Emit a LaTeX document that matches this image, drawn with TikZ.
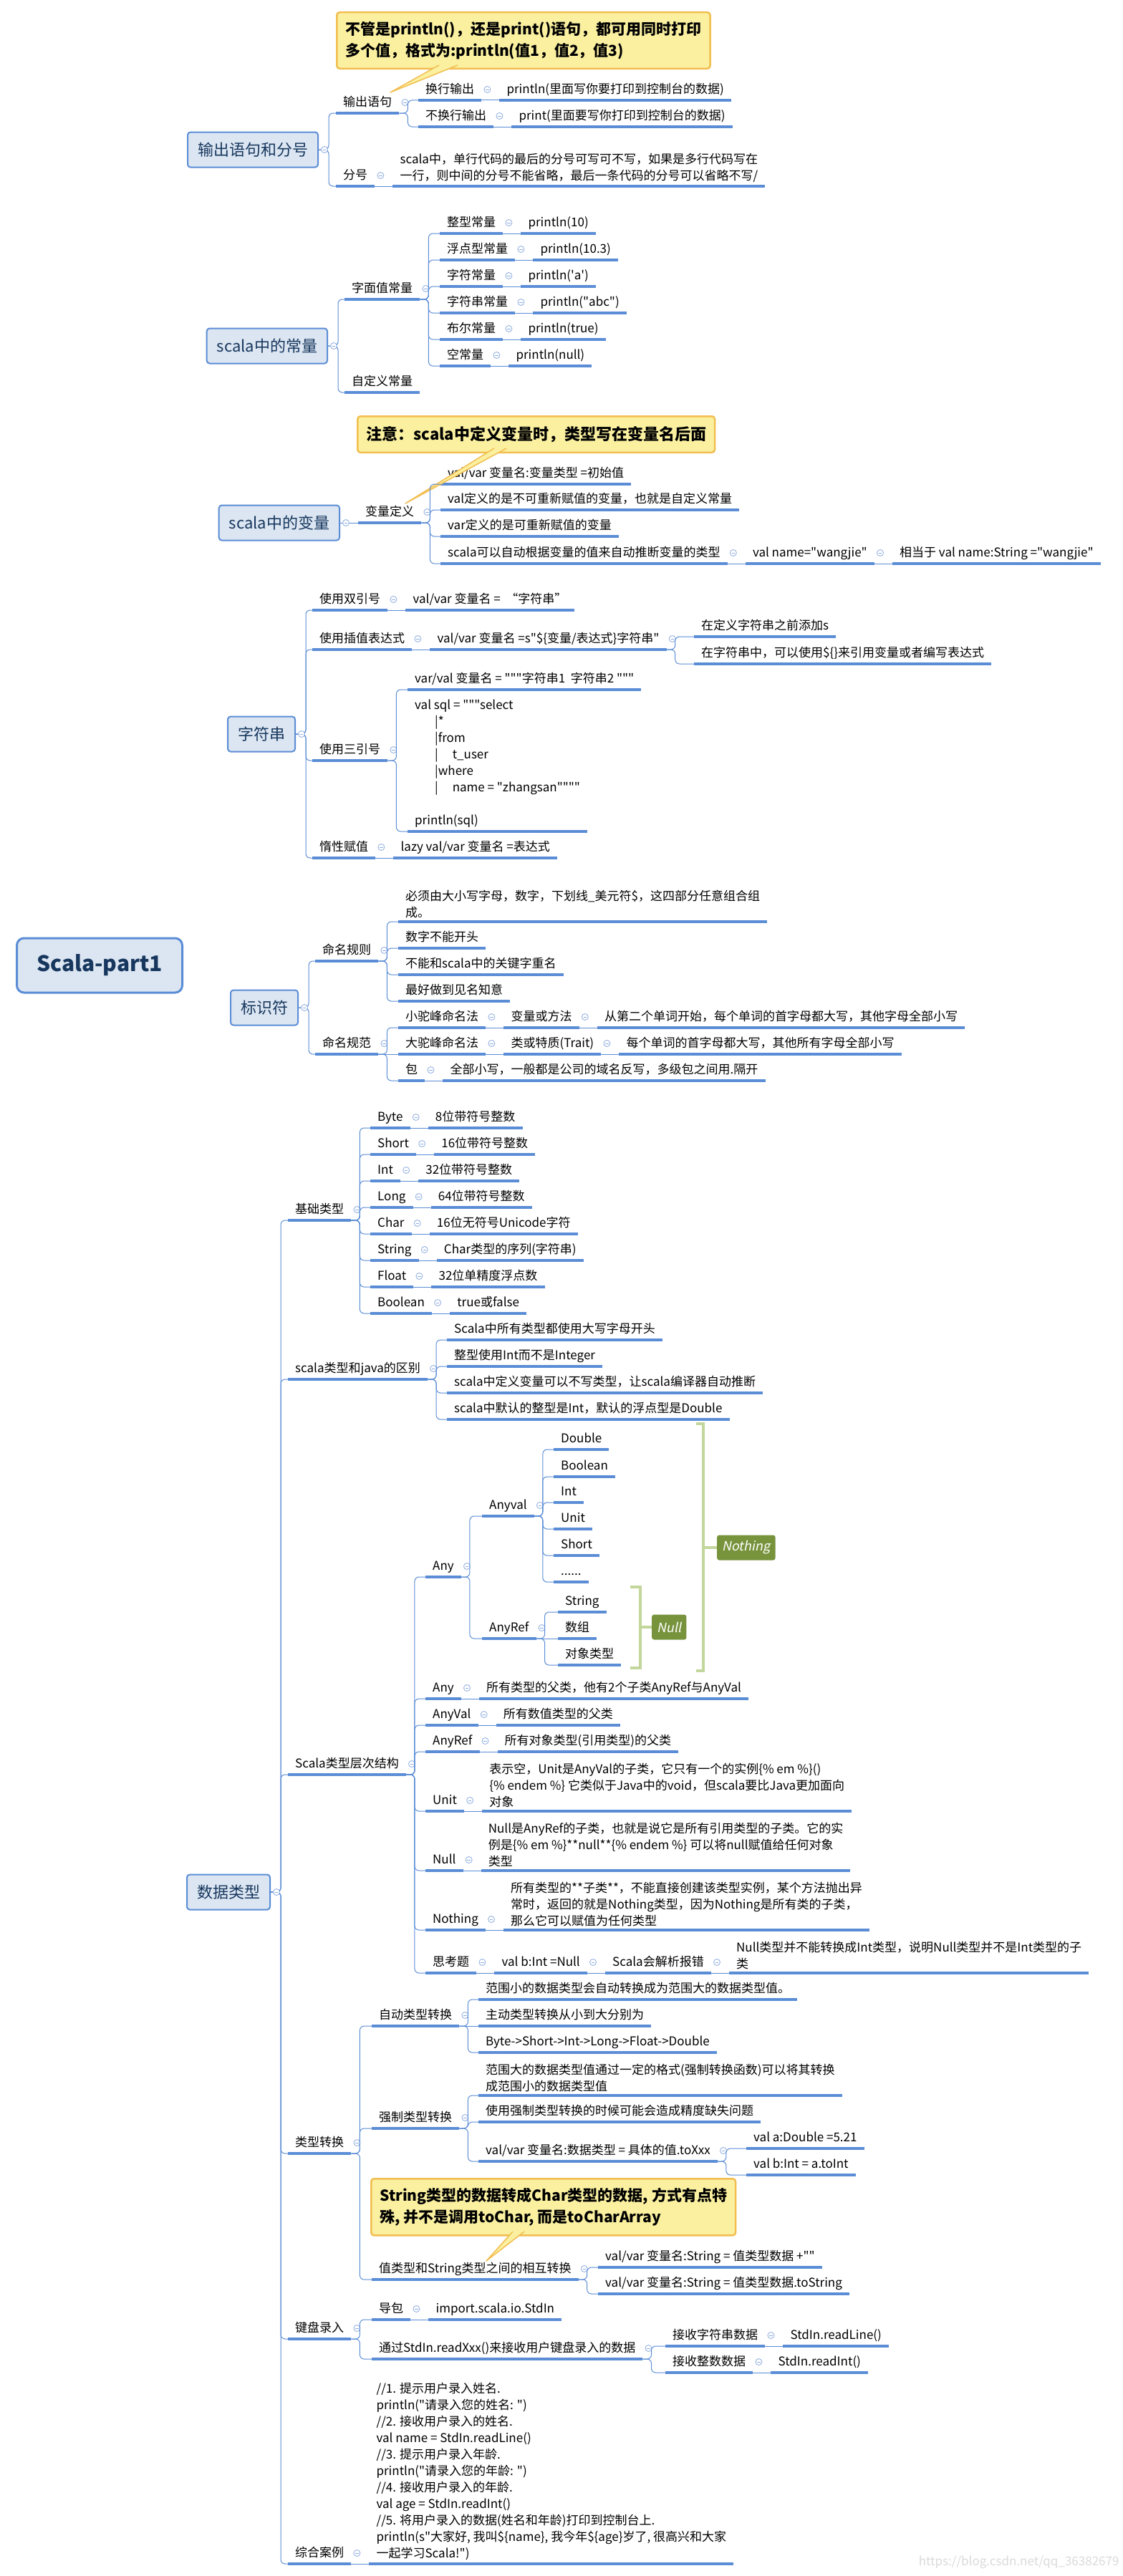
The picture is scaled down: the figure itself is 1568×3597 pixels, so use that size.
\documentclass[tikz,border=0pt]{standalone}
\usepackage{fontspec}
\setmainfont{Noto Sans CJK SC}
\newfontfamily\cnfont{Noto Sans CJK SC}
\newfontfamily\tagfont{Noto Sans CJK SC}[FakeSlant=0.2]
\usetikzlibrary{calc}
\definecolor{lineblue}{RGB}{91,141,214}
\definecolor{foldblue}{RGB}{140,172,224}
\definecolor{topicfill}{RGB}{220,230,242}
\definecolor{topictext}{RGB}{23,55,94}
\definecolor{notefill}{RGB}{250,240,160}
\definecolor{noteline}{RGB}{242,190,80}
\definecolor{bracegreen}{RGB}{195,214,155}
\definecolor{tagfill}{RGB}{119,147,60}
\definecolor{markgray}{RGB}{218,218,218}
\pgfdeclarelayer{background}
\pgfsetlayers{background,main}
\tikzset{
    rootnode/.style = {
        rectangle,
        rounded corners=10pt,
        draw=lineblue,
        line width=3pt,
        fill=topicfill,
        text=topictext,
        font=\cnfont\bfseries\fontsize{30}{36}\selectfont,
        minimum width=231pt,
        minimum height=76pt
    },
    topicnode/.style = {
        anchor=east,
        rectangle,
        rounded corners=4pt,
        draw=lineblue,
        line width=2pt,
        fill=topicfill,
        text=topictext,
        font=\cnfont\fontsize{22}{26}\selectfont,
        inner xsep=14pt,
        minimum height=49pt
    },
    ulinestyle/.style = {
        draw=lineblue,
        line width=3.5pt
    },
    subnode/.style = {
        anchor=south west,
        font=\cnfont\fontsize{17}{23}\selectfont,
        inner xsep=10pt,
        inner ysep=5pt,
        text height=13pt,
        text depth=4pt,
        append after command={
            (\tikzlastnode.south west) edge[ulinestyle] (\tikzlastnode.south east)
        }
    },
    multinode/.style = {
        subnode,
        align=left,
        text height=,
        text depth=
    },
    foldnode/.style = {
        circle,
        draw=foldblue,
        fill=white,
        line width=0.8pt,
        inner sep=0pt,
        minimum size=9pt,
        path picture={
            \draw[foldblue, line width=0.8pt]
                ([xshift=-2.2pt]path picture bounding box.center) --
                ([xshift=2.2pt]path picture bounding box.center);
        }
    },
    parentnode/.style = {
        subnode,
        append after command={
            node[foldnode] (\tikzlastnode-fold) at ([xshift=8pt,yshift=15pt]\tikzlastnode.south east) {}
        }
    },
    branch/.style = {
        draw=lineblue,
        line width=1pt,
        rounded corners=6pt
    },
    notenode/.style = {
        anchor=north west,
        rectangle,
        rounded corners=4pt,
        draw=noteline,
        line width=2.5pt,
        fill=notefill,
        align=left,
        inner xsep=12pt,
        inner ysep=13pt,
        font=\cnfont\bfseries\fontsize{21}{30}\selectfont
    },
    notetail/.style = {
        fill=notefill,
        draw=noteline,
        line width=1.5pt,
        line join=round
    },
    tagnode/.style = {
        anchor=west,
        rectangle,
        rounded corners=3pt,
        fill=tagfill,
        text=white,
        font=\tagfont\fontsize{18}{20}\selectfont,
        minimum height=35pt,
        inner xsep=7pt
    },
    tagbracket/.style = {
        draw=bracegreen,
        line width=4.5pt
    }
}

\begin{document}
\begin{tikzpicture}[x=1pt, y=-1pt]
    \fill[white] (0,0) rectangle (1568,3597);
    \useasboundingbox (0,0) rectangle (1568,3597);

    \node[rootnode] (root) at (139,1348) {Scala-part1};

    \node[topicnode] (out) at (445,209) {输出语句和分号};
    \node[parentnode] (outstmt) at (469,158) {输出语句};
    \node[parentnode] (outln) at (584,140) {换行输出};
    \node[subnode] (outlnv) at ([xshift=25pt]outln.south east) {println(里面写你要打印到控制台的数据)};
    \node[parentnode] (outnoln) at (584,177) {不换行输出};
    \node[subnode] (outnolnv) at ([xshift=25pt]outnoln.south east) {print(里面要写你打印到控制台的数据)};
    \node[parentnode] (semi) at (469,260) {分号};
    \node[multinode] (semiv) at ([xshift=25pt]semi.south east) {scala中，单行代码的最后的分号可写可不写，如果是多行代码写在\\一行，则中间的分号不能省略，最后一条代码的分号可以省略不写/};

    \node[topicnode] (const) at (458,483) {scala中的常量};
    \node[parentnode] (constlit) at (481,418) {字面值常量};
    \node[subnode] (constdef) at (481,548) {自定义常量};
    \node[parentnode] (lit1) at (614,326) {整型常量};
    \node[subnode] (lit1v) at ([xshift=25pt]lit1.south east) {println(10)};
    \node[parentnode] (lit2) at (614,363) {浮点型常量};
    \node[subnode] (lit2v) at ([xshift=25pt]lit2.south east) {println(10.3)};
    \node[parentnode] (lit3) at (614,400) {字符常量};
    \node[subnode] (lit3v) at ([xshift=25pt]lit3.south east) {println('a')};
    \node[parentnode] (lit4) at (614,437) {字符串常量};
    \node[subnode] (lit4v) at ([xshift=25pt]lit4.south east) {println("abc")};
    \node[parentnode] (lit5) at (614,474) {布尔常量};
    \node[subnode] (lit5v) at ([xshift=25pt]lit5.south east) {println(true)};
    \node[parentnode] (lit6) at (614,511) {空常量};
    \node[subnode] (lit6v) at ([xshift=25pt]lit6.south east) {println(null)};

    \node[topicnode] (vars) at (475,730) {scala中的变量};
    \node[parentnode] (vardef) at (500,730) {变量定义};
    \node[subnode] (vardef1) at (615,676) {val/var 变量名:变量类型 =初始值};
    \node[subnode] (vardef2) at (615,712) {val定义的是不可重新赋值的变量，也就是自定义常量};
    \node[subnode] (vardef3) at (615,749) {var定义的是可重新赋值的变量};
    \node[parentnode] (vardef4) at (615,787) {scala可以自动根据变量的值来自动推断变量的类型};
    \node[parentnode] (vardef4a) at ([xshift=25pt]vardef4.south east) {val name="wangjie"};
    \node[subnode] (vardef4b) at ([xshift=25pt]vardef4a.south east) {相当于 val name:String ="wangjie"};

    \node[topicnode] (str) at (413,1025) {字符串};
    \node[parentnode] (strdq) at (436,852) {使用双引号};
    \node[subnode] (strdqv) at ([xshift=25pt]strdq.south east) {val/var 变量名 =\ \ “字符串”};
    \node[parentnode] (strip) at (436,907) {使用插值表达式};
    \node[parentnode] (stripv) at ([xshift=25pt]strip.south east) {val/var 变量名 =s"\$\{变量/表达式\}字符串"};
    \node[subnode] (stripv1) at (969,889) {在定义字符串之前添加s};
    \node[subnode] (stripv2) at (969,927) {在字符串中，可以使用\$\{\}来引用变量或者编写表达式};
    \node[parentnode] (strtq) at (436,1062) {使用三引号};
    \node[subnode] (strtq1) at (569,963) {var/val 变量名 = """字符串1\ \ 字符串2 """};
    \node[multinode] (strtq2) at (569,1161) {val sql = """select\\
        \hspace*{28pt}|*\\
        \hspace*{28pt}|from\\
        \hspace*{28pt}|\hspace*{20pt}t\_user\\
        \hspace*{28pt}|where\\
        \hspace*{28pt}|\hspace*{20pt}name = "zhangsan""""\\[23pt]
        println(sql)};
    \node[parentnode] (strlazy) at (436,1198) {惰性赋值};
    \node[subnode] (strlazyv) at ([xshift=25pt]strlazy.south east) {lazy val/var 变量名 =表达式};

    \node[topicnode] (ident) at (417,1407) {标识符};
    \node[parentnode] (idrule) at (440,1342) {命名规则};
    \node[multinode] (idrule1) at (556,1287) {必须由大小写字母，数字，下划线\_美元符\$，这四部分任意组合组\\成。};
    \node[subnode] (idrule2) at (556,1324) {数字不能开头};
    \node[subnode] (idrule3) at (556,1361) {不能和scala中的关键字重名};
    \node[subnode] (idrule4) at (556,1398) {最好做到见名知意};
    \node[parentnode] (idname) at (440,1472) {命名规范};
    \node[parentnode] (camel) at (556,1435) {小驼峰命名法};
    \node[parentnode] (camelv) at ([xshift=25pt]camel.south east) {变量或方法};
    \node[subnode] (camelvv) at ([xshift=25pt]camelv.south east) {从第二个单词开始，每个单词的首字母都大写，其他字母全部小写};
    \node[parentnode] (pascal) at (556,1472) {大驼峰命名法};
    \node[parentnode] (pascalv) at ([xshift=25pt]pascal.south east) {类或特质(Trait)};
    \node[subnode] (pascalvv) at ([xshift=25pt]pascalv.south east) {每个单词的首字母都大写，其他所有字母全部小写};
    \node[parentnode] (pkg) at (556,1509) {包};
    \node[subnode] (pkgv) at ([xshift=25pt]pkg.south east) {全部小写，一般都是公司的域名反写，多级包之间用.隔开};

    \node[topicnode] (dtype) at (378,2642) {数据类型};
    \node[parentnode] (basic) at (402,1704) {基础类型};
    \node[parentnode] (tbyte) at (517,1575) {Byte};
    \node[subnode] (tbytev) at ([xshift=25pt]tbyte.south east) {8位带符号整数};
    \node[parentnode] (tshort) at (517,1612) {Short};
    \node[subnode] (tshortv) at ([xshift=25pt]tshort.south east) {16位带符号整数};
    \node[parentnode] (tint) at (517,1649) {Int};
    \node[subnode] (tintv) at ([xshift=25pt]tint.south east) {32位带符号整数};
    \node[parentnode] (tlong) at (517,1686) {Long};
    \node[subnode] (tlongv) at ([xshift=25pt]tlong.south east) {64位带符号整数};
    \node[parentnode] (tchar) at (517,1723) {Char};
    \node[subnode] (tcharv) at ([xshift=25pt]tchar.south east) {16位无符号Unicode字符};
    \node[parentnode] (tstring) at (517,1760) {String};
    \node[subnode] (tstringv) at ([xshift=25pt]tstring.south east) {Char类型的序列(字符串)};
    \node[parentnode] (tfloat) at (517,1797) {Float};
    \node[subnode] (tfloatv) at ([xshift=25pt]tfloat.south east) {32位单精度浮点数};
    \node[parentnode] (tbool) at (517,1834) {Boolean};
    \node[subnode] (tboolv) at ([xshift=25pt]tbool.south east) {true或false};

    \node[parentnode] (diff) at (402,1926) {scala类型和java的区别};
    \node[subnode] (diff1) at (624,1871) {Scala中所有类型都使用大写字母开头};
    \node[subnode] (diff2) at (624,1908) {整型使用Int而不是Integer};
    \node[subnode] (diff3) at (624,1945) {scala中定义变量可以不写类型，让scala编译器自动推断};
    \node[subnode] (diff4) at (624,1982) {scala中默认的整型是Int，默认的浮点型是Double};

    \node[parentnode] (hier) at (402,2478) {Scala类型层次结构};
    \node[parentnode] (anytree) at (594,2202) {Any};
    \node[parentnode] (anyval) at (673,2117) {Anyval};
    \node[subnode] (av1) at (773,2024) {Double};
    \node[subnode] (av2) at (773,2062) {Boolean};
    \node[subnode] (av3) at (773,2098) {Int};
    \node[subnode] (av4) at (773,2135) {Unit};
    \node[subnode] (av5) at (773,2172) {Short};
    \node[subnode] (av6) at (773,2209) {......};
    \node[parentnode] (anyref) at (673,2288) {AnyRef};
    \node[subnode] (ar1) at (779,2251) {String};
    \node[subnode] (ar2) at (779,2288) {数组};
    \node[subnode] (ar3) at (779,2325) {对象类型};
    \node[tagnode] (nulltag) at (910,2272) {Null};
    \node[tagnode] (nothingtag) at (1001,2161) {Nothing};
    \node[parentnode] (hany) at (594,2372) {Any};
    \node[subnode] (hanyv) at ([xshift=25pt]hany.south east) {所有类型的父类，他有2个子类AnyRef与AnyVal};
    \node[parentnode] (hanyval) at (594,2409) {AnyVal};
    \node[subnode] (hanyvalv) at ([xshift=25pt]hanyval.south east) {所有数值类型的父类};
    \node[parentnode] (hanyref) at (594,2446) {AnyRef};
    \node[subnode] (hanyrefv) at ([xshift=25pt]hanyref.south east) {所有对象类型(引用类型)的父类};
    \node[parentnode] (hunit) at (594,2529) {Unit};
    \node[multinode] (hunitv) at ([xshift=25pt]hunit.south east) {表示空，Unit是AnyVal的子类，它只有一个的实例\{\% em \%\}()\\\{\% endem \%\} 它类似于Java中的void，但scala要比Java更加面向\\对象};
    \node[parentnode] (hnull) at (594,2612) {Null};
    \node[multinode] (hnullv) at ([xshift=25pt]hnull.south east) {Null是AnyRef的子类，也就是说它是所有引用类型的子类。它的实\\例是\{\% em \%\}**null**\{\% endem \%\} 可以将null赋值给任何对象\\类型};
    \node[parentnode] (hnothing) at (594,2695) {Nothing};
    \node[multinode] (hnothingv) at ([xshift=25pt]hnothing.south east) {所有类型的**子类**，不能直接创建该类型实例，某个方法抛出异\\常时，返回的就是Nothing类型，因为Nothing是所有类的子类，\\那么它可以赋值为任何类型};
    \node[parentnode] (quiz) at (594,2755) {思考题};
    \node[parentnode] (quiz1) at ([xshift=25pt]quiz.south east) {val b:Int =Null};
    \node[parentnode] (quiz2) at ([xshift=25pt]quiz1.south east) {Scala会解析报错};
    \node[multinode] (quiz3) at ([xshift=25pt]quiz2.south east) {Null类型并不能转换成Int类型，说明Null类型并不是Int类型的子\\类};

    \node[parentnode] (conv) at (402,3007) {类型转换};
    \node[parentnode] (auto) at (519,2829) {自动类型转换};
    \node[subnode] (auto1) at (668,2792) {范围小的数据类型会自动转换成为范围大的数据类型值。};
    \node[subnode] (auto2) at (668,2829) {主动类型转换从小到大分别为};
    \node[subnode] (auto3) at (668,2866) {Byte->Short->Int->Long->Float->Double};
    \node[parentnode] (force) at (519,2972) {强制类型转换};
    \node[multinode] (force1) at (668,2926) {范围大的数据类型值通过一定的格式(强制转换函数)可以将其转换\\成范围小的数据类型值};
    \node[subnode] (force2) at (668,2963) {使用强制类型转换的时候可能会造成精度缺失问题};
    \node[parentnode] (force3) at (668,3018) {val/var 变量名:数据类型 = 具体的值.toXxx};
    \node[subnode] (force3a) at (1042,3000) {val a:Double =5.21};
    \node[subnode] (force3b) at (1042,3037) {val b:Int = a.toInt};
    \node[parentnode] (valstr) at (519,3183) {值类型和String类型之间的相互转换};
    \node[subnode] (valstr1) at (835,3166) {val/var 变量名:String = 值类型数据 +""};
    \node[subnode] (valstr2) at (835,3203) {val/var 变量名:String = 值类型数据.toString};

    \node[parentnode] (input) at (402,3266) {键盘录入};
    \node[parentnode] (inputimp) at (519,3239) {导包};
    \node[subnode] (inputimpv) at ([xshift=25pt]inputimp.south east) {import.scala.io.StdIn};
    \node[parentnode] (inputread) at (519,3294) {通过StdIn.readXxx()来接收用户键盘录入的数据};
    \node[parentnode] (readstr) at (929,3276) {接收字符串数据};
    \node[subnode] (readstrv) at ([xshift=25pt]readstr.south east) {StdIn.readLine()};
    \node[parentnode] (readint) at (929,3313) {接收整数数据};
    \node[subnode] (readintv) at ([xshift=25pt]readint.south east) {StdIn.readInt()};

    \node[parentnode] (demo) at (402,3580) {综合案例};
    \node[multinode] (demov) at ([xshift=25pt]demo.south east) {//1. 提示用户录入姓名.\\
        println("请录入您的姓名: ")\\
        //2. 接收用户录入的姓名.\\
        val name = StdIn.readLine()\\
        //3. 提示用户录入年龄.\\
        println("请录入您的年龄: ")\\
        //4. 接收用户录入的年龄.\\
        val age = StdIn.readInt()\\
        //5. 将用户录入的数据(姓名和年龄)打印到控制台上.\\
        println(s"大家好, 我叫\$\{name\}, 我今年\$\{age\}岁了, 很高兴和大家\\
        一起学习Scala!")};

    \node[notenode] (note1) at (469,16) {不管是println()，还是print()语句，都可用同时打印\\多个值，格式为:println(值1，值2，值3)};
    \filldraw[notetail] (613,91) -- (545,129) -- (639,91);
    \node[notenode, inner ysep=14pt, font=\cnfont\bfseries\fontsize{22}{30}\selectfont] (note2) at (498,580) {注意：scala中定义变量时，类型写在变量名后面};
    \filldraw[notetail] (690,626) -- (566,703) -- (707,626);
    \node[notenode] (note3) at (517,3041) {String类型的数据转成Char类型的数据, 方式有点特\\殊, 并不是调用toChar, 而是toCharArray};
    \filldraw[notetail] (716,3116) -- (679,3157) -- (732,3116);

    \node[font=\cnfont\fontsize{17}{20}\selectfont, text=markgray, anchor=east] (mark) at (1566,3578) {https://blog.csdn.net/qq\_36382679};

    \begin{pgfonlayer}{background}
        \draw[branch] (root.center) .. controls ($(root.center)!0.667!(192,209)$) and ($(out.west)!0.667!(192,209)$) .. (out.west);
        \draw[branch] (root.center) .. controls ($(root.center)!0.667!(192,483)$) and ($(const.west)!0.667!(192,483)$) .. (const.west);
        \draw[branch] (root.center) .. controls ($(root.center)!0.667!(192,730)$) and ($(vars.west)!0.667!(192,730)$) .. (vars.west);
        \draw[branch] (root.center) .. controls ($(root.center)!0.667!(200,1025)$) and ($(str.west)!0.667!(200,1025)$) .. (str.west);
        \draw[branch] (root.center) .. controls ($(root.center)!0.667!(300,1407)$) and ($(ident.west)!0.667!(300,1407)$) .. (ident.west);
        \draw[branch] (root.center) .. controls ($(root.center)!0.667!(192,2642)$) and ($(dtype.west)!0.667!(192,2642)$) .. (dtype.west);
    \end{pgfonlayer}

    \draw[branch] (out.east) -- ++(14,0) |- (outstmt.south west);
    \draw[branch] (out.east) -- ++(14,0) |- (semi.south west);
    \draw[branch] (outstmt.south east) -- ++(12,0) |- (outln.south west);
    \draw[branch] (outstmt.south east) -- ++(12,0) |- (outnoln.south west);
    \draw[branch] (outln.south east) -- (outlnv.south west);
    \draw[branch] (outnoln.south east) -- (outnolnv.south west);
    \draw[branch] (semi.south east) -- (semiv.south west);

    \draw[branch] (const.east) -- ++(14,0) |- (constlit.south west);
    \draw[branch] (const.east) -- ++(14,0) |- (constdef.south west);
    \draw[branch] (constlit.south east) -- ++(12,0) |- (lit1.south west);
    \draw[branch] (constlit.south east) -- ++(12,0) |- (lit2.south west);
    \draw[branch] (constlit.south east) -- ++(12,0) |- (lit3.south west);
    \draw[branch] (constlit.south east) -- ++(12,0) |- (lit4.south west);
    \draw[branch] (constlit.south east) -- ++(12,0) |- (lit5.south west);
    \draw[branch] (constlit.south east) -- ++(12,0) |- (lit6.south west);
    \draw[branch] (lit1.south east) -- (lit1v.south west);
    \draw[branch] (lit2.south east) -- (lit2v.south west);
    \draw[branch] (lit3.south east) -- (lit3v.south west);
    \draw[branch] (lit4.south east) -- (lit4v.south west);
    \draw[branch] (lit5.south east) -- (lit5v.south west);
    \draw[branch] (lit6.south east) -- (lit6v.south west);

    \draw[branch] (vars.east) -- (vardef.south west);
    \draw[branch] (vardef.south east) -- ++(12,0) |- (vardef1.south west);
    \draw[branch] (vardef.south east) -- ++(12,0) |- (vardef2.south west);
    \draw[branch] (vardef.south east) -- ++(12,0) |- (vardef3.south west);
    \draw[branch] (vardef.south east) -- ++(12,0) |- (vardef4.south west);
    \draw[branch] (vardef4.south east) -- (vardef4a.south west);
    \draw[branch] (vardef4a.south east) -- (vardef4b.south west);

    \draw[branch] (str.east) -- ++(14,0) |- (strdq.south west);
    \draw[branch] (str.east) -- ++(14,0) |- (strip.south west);
    \draw[branch] (str.east) -- ++(14,0) |- (strtq.south west);
    \draw[branch] (str.east) -- ++(14,0) |- (strlazy.south west);
    \draw[branch] (strdq.south east) -- (strdqv.south west);
    \draw[branch] (strip.south east) -- (stripv.south west);
    \draw[branch] (stripv.south east) -- ++(12,0) |- (stripv1.south west);
    \draw[branch] (stripv.south east) -- ++(12,0) |- (stripv2.south west);
    \draw[branch] (strtq.south east) -- ++(12,0) |- (strtq1.south west);
    \draw[branch] (strtq.south east) -- ++(12,0) |- (strtq2.south west);
    \draw[branch] (strlazy.south east) -- (strlazyv.south west);

    \draw[branch] (ident.east) -- ++(14,0) |- (idrule.south west);
    \draw[branch] (ident.east) -- ++(14,0) |- (idname.south west);
    \draw[branch] (idrule.south east) -- ++(12,0) |- (idrule1.south west);
    \draw[branch] (idrule.south east) -- ++(12,0) |- (idrule2.south west);
    \draw[branch] (idrule.south east) -- ++(12,0) |- (idrule3.south west);
    \draw[branch] (idrule.south east) -- ++(12,0) |- (idrule4.south west);
    \draw[branch] (idname.south east) -- ++(12,0) |- (camel.south west);
    \draw[branch] (idname.south east) -- (pascal.south west);
    \draw[branch] (idname.south east) -- ++(12,0) |- (pkg.south west);
    \draw[branch] (camel.south east) -- (camelv.south west);
    \draw[branch] (camelv.south east) -- (camelvv.south west);
    \draw[branch] (pascal.south east) -- (pascalv.south west);
    \draw[branch] (pascalv.south east) -- (pascalvv.south west);
    \draw[branch] (pkg.south east) -- (pkgv.south west);

    \draw[branch] (dtype.east) -- ++(14,0) |- (basic.south west);
    \draw[branch] (dtype.east) -- ++(14,0) |- (diff.south west);
    \draw[branch] (dtype.east) -- ++(14,0) |- (hier.south west);
    \draw[branch] (dtype.east) -- ++(14,0) |- (conv.south west);
    \draw[branch] (dtype.east) -- ++(14,0) |- (input.south west);
    \draw[branch] (dtype.east) -- ++(14,0) |- (demo.south west);

    \draw[branch] (basic.south east) -- ++(12,0) |- (tbyte.south west);
    \draw[branch] (basic.south east) -- ++(12,0) |- (tshort.south west);
    \draw[branch] (basic.south east) -- ++(12,0) |- (tint.south west);
    \draw[branch] (basic.south east) -- ++(12,0) |- (tlong.south west);
    \draw[branch] (basic.south east) -- ++(12,0) |- (tchar.south west);
    \draw[branch] (basic.south east) -- ++(12,0) |- (tstring.south west);
    \draw[branch] (basic.south east) -- ++(12,0) |- (tfloat.south west);
    \draw[branch] (basic.south east) -- ++(12,0) |- (tbool.south west);
    \draw[branch] (tbyte.south east) -- (tbytev.south west);
    \draw[branch] (tshort.south east) -- (tshortv.south west);
    \draw[branch] (tint.south east) -- (tintv.south west);
    \draw[branch] (tlong.south east) -- (tlongv.south west);
    \draw[branch] (tchar.south east) -- (tcharv.south west);
    \draw[branch] (tstring.south east) -- (tstringv.south west);
    \draw[branch] (tfloat.south east) -- (tfloatv.south west);
    \draw[branch] (tbool.south east) -- (tboolv.south west);

    \draw[branch] (diff.south east) -- ++(12,0) |- (diff1.south west);
    \draw[branch] (diff.south east) -- ++(12,0) |- (diff2.south west);
    \draw[branch] (diff.south east) -- ++(12,0) |- (diff3.south west);
    \draw[branch] (diff.south east) -- ++(12,0) |- (diff4.south west);

    \draw[branch] (hier.south east) -- ++(12,0) |- (anytree.south west);
    \draw[branch] (hier.south east) -- ++(12,0) |- (hany.south west);
    \draw[branch] (hier.south east) -- ++(12,0) |- (hanyval.south west);
    \draw[branch] (hier.south east) -- ++(12,0) |- (hanyref.south west);
    \draw[branch] (hier.south east) -- ++(12,0) |- (hunit.south west);
    \draw[branch] (hier.south east) -- ++(12,0) |- (hnull.south west);
    \draw[branch] (hier.south east) -- ++(12,0) |- (hnothing.south west);
    \draw[branch] (hier.south east) -- ++(12,0) |- (quiz.south west);
    \draw[branch] (anytree.south east) -- ++(12,0) |- (anyval.south west);
    \draw[branch] (anytree.south east) -- ++(12,0) |- (anyref.south west);
    \draw[branch] (anyval.south east) -- ++(12,0) |- (av1.south west);
    \draw[branch] (anyval.south east) -- ++(12,0) |- (av2.south west);
    \draw[branch] (anyval.south east) -- ++(12,0) |- (av3.south west);
    \draw[branch] (anyval.south east) -- ++(12,0) |- (av4.south west);
    \draw[branch] (anyval.south east) -- ++(12,0) |- (av5.south west);
    \draw[branch] (anyval.south east) -- ++(12,0) |- (av6.south west);
    \draw[branch] (anyref.south east) -- ++(12,0) |- (ar1.south west);
    \draw[branch] (anyref.south east) -- (ar2.south west);
    \draw[branch] (anyref.south east) -- ++(12,0) |- (ar3.south west);
    \draw[tagbracket] (880,2216) -- (894,2216) -- (894,2329) -- (880,2329);
    \draw[tagbracket] (894,2272) -- (nulltag.west);
    \draw[tagbracket] (972,1988) -- (982,1988) -- (982,2333) -- (972,2333);
    \draw[tagbracket] (982,2161) -- (nothingtag.west);
    \draw[branch] (hany.south east) -- (hanyv.south west);
    \draw[branch] (hanyval.south east) -- (hanyvalv.south west);
    \draw[branch] (hanyref.south east) -- (hanyrefv.south west);
    \draw[branch] (hunit.south east) -- (hunitv.south west);
    \draw[branch] (hnull.south east) -- (hnullv.south west);
    \draw[branch] (hnothing.south east) -- (hnothingv.south west);
    \draw[branch] (quiz.south east) -- (quiz1.south west);
    \draw[branch] (quiz1.south east) -- (quiz2.south west);
    \draw[branch] (quiz2.south east) -- (quiz3.south west);

    \draw[branch] (conv.south east) -- ++(12,0) |- (auto.south west);
    \draw[branch] (conv.south east) -- ++(12,0) |- (force.south west);
    \draw[branch] (conv.south east) -- ++(12,0) |- (valstr.south west);
    \draw[branch] (auto.south east) -- ++(12,0) |- (auto1.south west);
    \draw[branch] (auto.south east) -- (auto2.south west);
    \draw[branch] (auto.south east) -- ++(12,0) |- (auto3.south west);
    \draw[branch] (force.south east) -- ++(12,0) |- (force1.south west);
    \draw[branch] (force.south east) -- ++(12,0) |- (force2.south west);
    \draw[branch] (force.south east) -- ++(12,0) |- (force3.south west);
    \draw[branch] (force3.south east) -- ++(12,0) |- (force3a.south west);
    \draw[branch] (force3.south east) -- ++(12,0) |- (force3b.south west);
    \draw[branch] (valstr.south east) -- ++(12,0) |- (valstr1.south west);
    \draw[branch] (valstr.south east) -- ++(12,0) |- (valstr2.south west);

    \draw[branch] (input.south east) -- ++(12,0) |- (inputimp.south west);
    \draw[branch] (input.south east) -- ++(12,0) |- (inputread.south west);
    \draw[branch] (inputimp.south east) -- (inputimpv.south west);
    \draw[branch] (inputread.south east) -- ++(12,0) |- (readstr.south west);
    \draw[branch] (inputread.south east) -- ++(12,0) |- (readint.south west);
    \draw[branch] (readstr.south east) -- (readstrv.south west);
    \draw[branch] (readint.south east) -- (readintv.south west);
    \draw[branch] (demo.south east) -- (demov.south west);

    \node[foldnode] (out-fold) at ([xshift=8pt]out.east) {};
    \node[foldnode] (const-fold) at ([xshift=8pt]const.east) {};
    \node[foldnode] (vars-fold) at ([xshift=8pt]vars.east) {};
    \node[foldnode] (str-fold) at ([xshift=8pt]str.east) {};
    \node[foldnode] (ident-fold) at ([xshift=8pt]ident.east) {};
    \node[foldnode] (dtype-fold) at ([xshift=8pt]dtype.east) {};
\end{tikzpicture}
\end{document}
